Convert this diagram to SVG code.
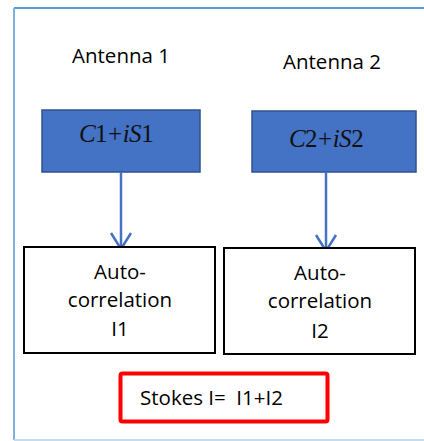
<svg xmlns="http://www.w3.org/2000/svg" width="424" height="441" viewBox="0 0 424 441">
  <style>
    .label { font-family: "Open Sans", "Liberation Sans", sans-serif; font-size: 20.5px; fill: #000; text-anchor: middle; }
    .math { font-family: "Liberation Serif", serif; font-size: 25px; fill: #111; text-anchor: middle; letter-spacing: -0.5px; }
    .src { fill: #4472c4; stroke: #2f528f; stroke-width: 1.5; }
    .proc { fill: #fff; stroke: #000; stroke-width: 2; }
    .link { stroke: #4472c4; stroke-width: 2.5; fill: none; }
  </style>
  <defs>
    <marker id="open" viewBox="0 0 18 24" refX="17" refY="12" markerWidth="18" markerHeight="24" markerUnits="userSpaceOnUse" orient="auto">
      <path d="M1,2 L17,12 L1,22" fill="none" stroke="#4472c4" stroke-width="2.5"/>
    </marker>
  </defs>

  <!-- outer frame -->
  <rect x="0" y="0" width="424" height="441" fill="#fff"/>
  <line x1="14" y1="8" x2="424" y2="8" stroke="#5b9bd5" stroke-width="2"/>
  <line x1="14" y1="8" x2="14" y2="440" stroke="#7fb0e0" stroke-width="2"/>
  <line x1="14" y1="440" x2="424" y2="440" stroke="#c5dcf0" stroke-width="2"/>

  <text class="label" x="121" y="63">Antenna 1</text>
  <text class="label" x="332" y="69">Antenna 2</text>

  <g id="source1">
    <rect class="src" x="42" y="110" width="158" height="62"/>
    <text class="math" x="116" y="142"><tspan font-style="italic">C</tspan>1<tspan dx="1">+</tspan><tspan dx="1" font-style="italic">iS</tspan>1</text>
  </g>
  <g id="source2">
    <rect class="src" x="252" y="111" width="164" height="61"/>
    <text class="math" x="326" y="147"><tspan font-style="italic">C</tspan>2<tspan dx="1">+</tspan><tspan dx="1" font-style="italic">iS</tspan>2</text>
  </g>

  <g id="connectors">
    <line class="link" x1="121" y1="172" x2="121" y2="249" marker-end="url(#open)"/>
    <line class="link" x1="326" y1="172" x2="326" y2="251" marker-end="url(#open)"/>
  </g>

  <g id="autocorr1">
    <rect class="proc" x="24" y="247" width="191" height="106"/>
    <text class="label" x="120" y="279">Auto-</text>
    <text class="label" x="120" y="307">correlation</text>
    <text class="label" x="120" y="336">I1</text>
  </g>
  <g id="autocorr2">
    <rect class="proc" x="224" y="248" width="191" height="106"/>
    <text class="label" x="320" y="280">Auto-</text>
    <text class="label" x="320" y="308">correlation</text>
    <text class="label" x="320" y="338">I2</text>
  </g>

  <g id="stokes">
    <rect x="120.5" y="373.5" width="207" height="48" rx="2" fill="#fff" stroke="#ff0000" stroke-width="4"/>
    <text class="label" x="140" y="405" style="text-anchor:start" xml:space="preserve">Stokes I=  I1+I2</text>
  </g>
</svg>
